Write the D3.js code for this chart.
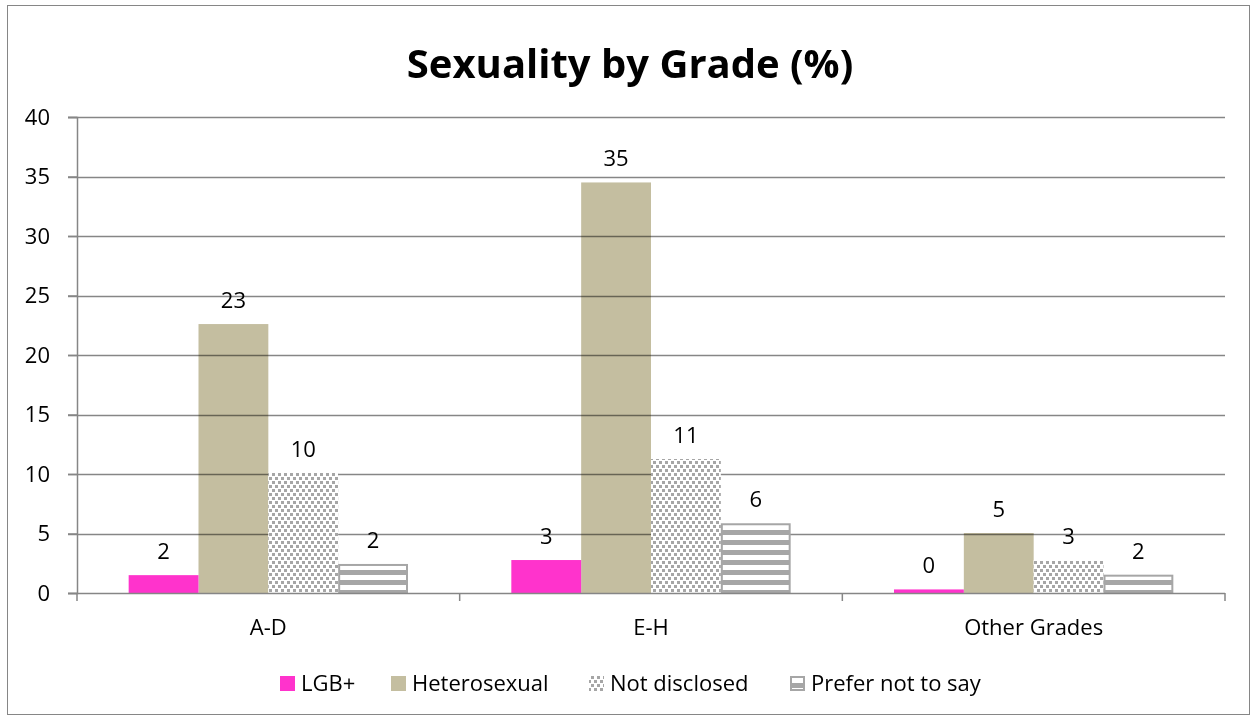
<!DOCTYPE html>
<html>
<head>
<meta charset="utf-8">
<script src="https://cdn.jsdelivr.net/npm/d3@7"></script>
<style>
  html, body { margin: 0; padding: 0; background: #fff; }
  svg { display: block; font-family: "Open Sans", Lato, sans-serif; }
</style>
</head>
<body>
<svg id="chart" width="1257" height="720"></svg>
<script>
// Sexuality by grade, percentages
const categories = ["A-D", "E-H", "Other Grades"];
const seriesNames = ["LGB+", "Heterosexual", "Not disclosed", "Prefer not to say"];
const lgbValues = [1.5, 2.77, 0.3];
const heteroValues = [22.6, 34.5, 5.04];
const notDisclosedValues = [10.1, 11.26, 2.77];
const preferNotValues = [2.44, 5.86, 1.54];
const yTicks = [0, 5, 10, 15, 20, 25, 30, 35, 40];

const seriesValues = [lgbValues, heteroValues, notDisclosedValues, preferNotValues];

const FONT = "'Open Sans', Lato, sans-serif";
const svg = d3.select("#chart");
const W = 1257, H = 720;
const margin = { left: 77, right: 32, top: 117, bottom: 127 };
const plotW = W - margin.left - margin.right;
const plotH = H - margin.top - margin.bottom;
const TICK = 9;

// Fill patterns
const defs = svg.append("defs");
const dots = defs.append("pattern").attr("id", "dots")
  .attr("patternUnits", "userSpaceOnUse").attr("width", 6).attr("height", 8);
dots.append("rect").attr("width", 6).attr("height", 8).attr("fill", "#fff");
dots.append("rect").attr("x", 0).attr("y", 0).attr("width", 3).attr("height", 3).attr("fill", "#a6a6a6");
dots.append("rect").attr("x", 3).attr("y", 4).attr("width", 3).attr("height", 3).attr("fill", "#a6a6a6");

const stripes = defs.append("pattern").attr("id", "stripes")
  .attr("patternUnits", "userSpaceOnUse").attr("width", 10).attr("height", 10);
stripes.append("rect").attr("width", 10).attr("height", 10).attr("fill", "#fff");
stripes.append("rect").attr("y", 3).attr("width", 10).attr("height", 5).attr("fill", "#a6a6a6");

const fills = ["#ff33cc", "#c4bea0", "url(#dots)", "url(#stripes)"];
const strokes = ["none", "none", "none", "#a6a6a6"];

// Outer frame
svg.append("rect").attr("x", 7.5).attr("y", 5.5).attr("width", 1242).attr("height", 709)
  .attr("fill", "#fff").attr("stroke", "#868686").attr("stroke-width", 1);

// Title
svg.append("text").attr("x", 630).attr("y", 78).attr("text-anchor", "middle")
  .attr("font-size", 40).attr("font-weight", "bold").attr("fill", "#000")
  .attr("font-family", FONT)
  .text("Sexuality by Grade (%)");

const g = svg.append("g").attr("transform", `translate(${margin.left},${margin.top})`);

const x0 = d3.scaleBand().domain(categories).range([0, plotW]).paddingInner(0).paddingOuter(0);
const groupW = x0.bandwidth() * 0.73;
const x1 = d3.scaleBand().domain(seriesNames).range([0, groupW]).padding(0);
const y = d3.scaleLinear().domain([0, 40]).range([plotH, 0]);

const barsLayer = g.append("g");
const gridLayer = g.append("g");
const frontLayer = g.append("g");

// Heterosexual bars sit beneath the gridlines; other series are drawn above
seriesNames.forEach((name, si) => {
  const layer = si === 1 ? barsLayer : frontLayer;
  const inset = strokes[si] !== "none" ? 1 : 0;
  const data = categories.map((c, ci) => ({ c, v: seriesValues[si][ci] }));
  layer.selectAll(null).data(data).enter().append("rect")
    .attr("x", d => x0(d.c) + (x0.bandwidth() - groupW) / 2 + x1(name) + inset)
    .attr("y", d => y(d.v) + inset)
    .attr("width", x1.bandwidth() - 2 * inset)
    .attr("height", d => Math.max(0, y(0) - y(d.v) - 2 * inset))
    .attr("fill", fills[si])
    .attr("stroke", strokes[si])
    .attr("stroke-width", 2);
  // Value labels
  frontLayer.selectAll(null).data(data).enter().append("text")
    .attr("x", d => x0(d.c) + (x0.bandwidth() - groupW) / 2 + x1(name) + x1.bandwidth() / 2)
    .attr("y", d => y(d.v) - 16)
    .attr("text-anchor", "middle")
    .attr("font-size", 22).attr("fill", "#000").attr("font-family", FONT)
    .text(d => d3.format(".0f")(d.v));
});

// Horizontal gridlines (extending left as axis ticks)
gridLayer.selectAll("line").data(yTicks.filter(t => t > 0)).enter().append("line")
  .attr("x1", -TICK).attr("x2", plotW)
  .attr("y1", d => Math.round(y(d)) + 0.5).attr("y2", d => Math.round(y(d)) + 0.5)
  .attr("stroke", "#868686").attr("stroke-width", 1.5)
  .style("mix-blend-mode", "multiply");

// Y axis
const yAxis = d3.axisLeft(y).tickValues(yTicks).tickSize(TICK).tickPadding(18);
const yg = g.append("g").call(yAxis);
yg.attr("font-family", FONT).attr("font-size", 22);
yg.select(".domain").attr("stroke", "#868686").attr("stroke-width", 1.5);
yg.selectAll(".tick line").attr("stroke", "#868686").attr("stroke-width", 1.5);
yg.selectAll(".tick text").attr("fill", "#000");

// X axis with boundary ticks
const xg = g.append("g").attr("transform", `translate(0,${plotH})`);
xg.append("line").attr("x1", -TICK).attr("x2", plotW).attr("y1", 0.5).attr("y2", 0.5)
  .attr("stroke", "#868686").attr("stroke-width", 1.5);
const bounds = categories.map(c => x0(c)).concat([plotW]);
xg.selectAll(".bt").data(bounds).enter().append("line")
  .attr("x1", d => d).attr("x2", d => d).attr("y1", 0).attr("y2", 8)
  .attr("stroke", "#868686").attr("stroke-width", 1.5);
xg.selectAll(".cl").data(categories).enter().append("text")
  .attr("x", d => x0(d) + x0.bandwidth() / 2).attr("y", 42)
  .attr("text-anchor", "middle").attr("font-size", 22).attr("fill", "#000")
  .attr("font-family", FONT)
  .text(d => d);

// Legend
const legendX = [280, 391, 589, 790];
const legend = svg.append("g");
seriesNames.forEach((name, si) => {
  const inset = si === 3 ? 1 : 0;
  legend.append("rect").attr("x", legendX[si] + inset).attr("y", 676 + inset)
    .attr("width", 15 - 2 * inset).attr("height", 15 - 2 * inset)
    .attr("fill", fills[si]).attr("stroke", strokes[si]).attr("stroke-width", 2);
  legend.append("text").attr("x", legendX[si] + 21).attr("y", 691)
    .attr("font-size", 22).attr("fill", "#000").attr("font-family", FONT).text(name);
});
</script>
</body>
</html>
